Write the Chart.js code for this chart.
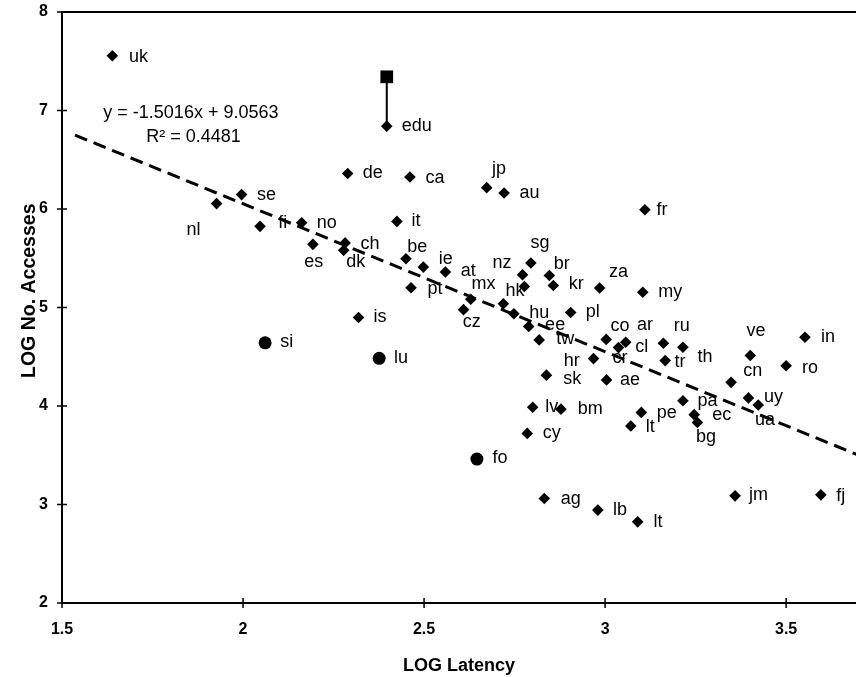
<!DOCTYPE html>
<html>
<head>
<meta charset="utf-8">
<script src="https://cdn.jsdelivr.net/npm/chart.js@4.4.1/dist/chart.umd.min.js"></script>
<style>
html,body{margin:0;padding:0;background:#fff;overflow:hidden;width:856px;height:677px}
canvas{display:block}
</style>
</head>
<body>
<canvas id="c" width="865" height="677"></canvas>
<script>
// ---- data ----
const latency = [1.639,1.927,1.996,2.047,2.162,2.193,2.282,2.278,2.289,2.319,2.397,2.425,2.450,2.461,2.464,2.498,2.559,2.609,2.629,2.673,2.719,2.721,2.748,2.772,2.777,2.789,2.795,2.785,2.800,2.818,2.832,2.838,2.846,2.857,2.878,2.905,2.968,2.980,2.985,3.003,3.004,3.037,3.057,3.071,3.090,3.100,3.104,3.110,3.161,3.166,3.215,3.215,3.246,3.255,3.348,3.359,3.396,3.401,3.423,3.500,3.552,3.596];
const accesses = [7.556,6.055,6.146,5.824,5.861,5.641,5.656,5.580,6.360,4.898,6.841,5.874,5.495,6.325,5.200,5.410,5.361,4.978,5.084,6.217,5.038,6.162,4.936,5.333,5.213,4.807,5.452,3.722,3.988,4.671,3.061,4.313,5.325,5.224,3.968,4.949,4.481,2.943,5.198,4.676,4.265,4.593,4.647,3.797,2.824,3.935,5.155,5.993,4.637,4.461,4.596,4.054,3.912,3.833,4.240,3.088,4.082,4.512,4.010,4.409,4.698,3.098];

// circle-marked sites (si, lu, fo)
const circleLatency = [2.061, 2.376, 2.646];
const circleAccesses = [4.641, 4.484, 3.461];

// edu: upper value (square) joined to the edu diamond
const eduLatency = 2.397;
const eduUpper = 7.342;
const eduLower = 6.841;

// data labels as placed in the picture
const labelCodes = ['uk','edu','de','ca','jp','au','fr','se','nl','fi','no','it','ch','es','dk','be','ie','at','nz','sg','br','kr','za','my','pt','mx','hk','cz','is','hu','pl','ee','tw','co','ar','ru','ve','in','cl','cr','hr','th','tr','cn','ro','si','lu','sk','ae','pa','uy','ua','lv','bm','lt','pe','ec','bg','cy','fo','ag','lb','lt','jm','fj'];
const labelLatency = [1.711,2.480,2.358,2.530,2.707,2.791,3.157,2.065,1.863,2.110,2.231,2.478,2.351,2.195,2.311,2.481,2.560,2.622,2.715,2.820,2.880,2.920,3.037,3.180,2.530,2.664,2.751,2.632,2.378,2.818,2.966,2.862,2.890,3.041,3.110,3.212,3.417,3.616,3.101,3.041,2.908,3.276,3.207,3.408,3.566,2.121,2.436,2.909,3.069,3.283,3.465,3.442,2.853,2.959,3.125,3.170,3.322,3.279,2.853,2.710,2.905,3.041,3.146,3.424,3.651];
const labelAccesses = [7.539,6.841,6.366,6.312,6.410,6.162,5.986,6.139,5.790,5.857,5.857,5.878,5.648,5.458,5.463,5.613,5.495,5.369,5.450,5.651,5.444,5.234,5.359,5.156,5.190,5.234,5.166,4.850,4.903,4.942,4.959,4.817,4.682,4.807,4.817,4.807,4.766,4.698,4.596,4.484,4.461,4.494,4.444,4.359,4.383,4.647,4.484,4.278,4.268,4.047,4.088,3.858,3.986,3.970,3.787,3.932,3.912,3.681,3.722,3.474,3.054,2.942,2.824,3.095,3.088];

// linear trendline as printed on the chart
const trendSlope = -1.5016;
const trendIntercept = 9.0563;
const trendR2 = 0.4481;
const trendFrom = 1.536;
const trendTo = 3.70;
const equationAt = [1.856, 6.970];
const r2At = [1.863, 6.726];

// axes
const xTicks = [1.5, 2, 2.5, 3, 3.5];
const yTicks = [2, 3, 4, 5, 6, 7, 8];
const xTitle = 'LOG Latency';
const yTitle = 'LOG No. Accesses';

// ---- chart ----
const FONT = '"Liberation Sans", Arial, Helvetica, sans-serif';
const pts = latency.map((v, i) => ({x: v, y: accesses[i]}));
const circ = circleLatency.map((v, i) => ({x: v, y: circleAccesses[i]}));
const trend = [trendFrom, trendTo].map(v => ({x: v, y: trendSlope * v + trendIntercept}));

const overlay = {
  id: 'overlay',
  beforeDatasetsDraw(chart) {
    const {ctx, chartArea: a, scales: {x, y}} = chart;
    ctx.save();
    ctx.strokeStyle = '#000';
    ctx.lineWidth = 2;
    ctx.beginPath();
    ctx.moveTo(a.right + 20, a.top); ctx.lineTo(a.left, a.top);
    ctx.lineTo(a.left, a.bottom); ctx.lineTo(a.right + 20, a.bottom);
    ctx.stroke();
    ctx.lineWidth = 1.5;
    ctx.beginPath();
    x.ticks.forEach(t => { const p = x.getPixelForValue(t.value); ctx.moveTo(p, a.bottom - 5); ctx.lineTo(p, a.bottom + 5); });
    y.ticks.forEach(t => { const p = y.getPixelForValue(t.value); ctx.moveTo(a.left - 5, p); ctx.lineTo(a.left + 5, p); });
    ctx.stroke();
    // y axis title
    ctx.fillStyle = '#000';
    ctx.font = 'bold 19.5px ' + FONT;
    ctx.textAlign = 'center';
    ctx.textBaseline = 'middle';
    ctx.translate(a.left - 32, y.getPixelForValue(5.17));
    ctx.rotate(-Math.PI / 2);
    ctx.fillText(yTitle, 0, 0);
    ctx.restore();
  },
  afterDatasetsDraw(chart) {
    const {ctx, scales: {x, y}} = chart;
    ctx.save();
    ctx.fillStyle = '#000';
    ctx.font = '18px ' + FONT;
    ctx.textAlign = 'center';
    ctx.textBaseline = 'middle';
    labelCodes.forEach((c, i) => {
      ctx.fillText(c, x.getPixelForValue(labelLatency[i]), y.getPixelForValue(labelAccesses[i]));
    });
    const eq = 'y = ' + trendSlope.toFixed(4) + 'x + ' + trendIntercept.toFixed(4);
    ctx.fillText(eq, x.getPixelForValue(equationAt[0]), y.getPixelForValue(equationAt[1]));
    ctx.fillText('R\u00B2 = ' + trendR2.toFixed(4), x.getPixelForValue(r2At[0]), y.getPixelForValue(r2At[1]));
    ctx.restore();
  }
};

new Chart(document.getElementById('c'), {
  type: 'scatter',
  data: {
    datasets: [
      {
        label: 'trend',
        type: 'line',
        data: trend,
        borderColor: '#000',
        borderWidth: 3,
        borderDash: [13, 7],
        pointRadius: 0,
        fill: false,
        order: 3
      },
      {
        label: 'edu upper',
        type: 'line',
        data: [{x: eduLatency, y: eduUpper}, {x: eduLatency, y: eduLower}],
        borderColor: '#000',
        borderWidth: 2,
        pointStyle: 'rect',
        pointRadius: [9, 0],
        pointBackgroundColor: '#000',
        pointBorderWidth: 0,
        fill: false,
        order: 2
      },
      {
        label: 'sites',
        data: pts,
        pointStyle: 'rectRot',
        pointRadius: 5.8,
        backgroundColor: '#000',
        borderWidth: 0,
        order: 1
      },
      {
        label: 'circle sites',
        data: circ,
        pointStyle: 'circle',
        pointRadius: 6.5,
        backgroundColor: '#000',
        borderWidth: 0,
        order: 1
      }
    ]
  },
  options: {
    responsive: false,
    animation: false,
    events: [],
    layout: {padding: {left: 0, right: 0, top: 12, bottom: 0}},
    plugins: {legend: {display: false}, tooltip: {enabled: false}},
    scales: {
      x: {
        type: 'linear',
        min: 1.5,
        max: 3.693,
        afterBuildTicks: s => { s.ticks = xTicks.map(v => ({value: v})); },
        afterFit: s => { s.height = 74; },
        grid: {display: false},
        border: {display: false},
        ticks: {
          color: '#000', padding: 9, maxRotation: 0, autoSkip: false,
          font: {family: FONT, size: 16, weight: 'bold'},
          callback: v => String(v)
        },
        title: {
          display: true, text: xTitle, color: '#000',
          font: {family: FONT, size: 18, weight: 'bold'},
          padding: {top: 0, bottom: 0}
        }
      },
      y: {
        type: 'linear',
        min: 2,
        max: 8,
        afterBuildTicks: s => { s.ticks = yTicks.map(v => ({value: v})); },
        afterFit: s => { s.width = 62; },
        grid: {display: false, tickLength: 12},
        border: {display: false},
        ticks: {
          color: '#000', padding: 2,
          font: {family: FONT, size: 16, weight: 'bold'},
          callback: v => String(v)
        },
        title: {display: false}
      }
    }
  },
  plugins: [overlay]
});
</script>
</body>
</html>
